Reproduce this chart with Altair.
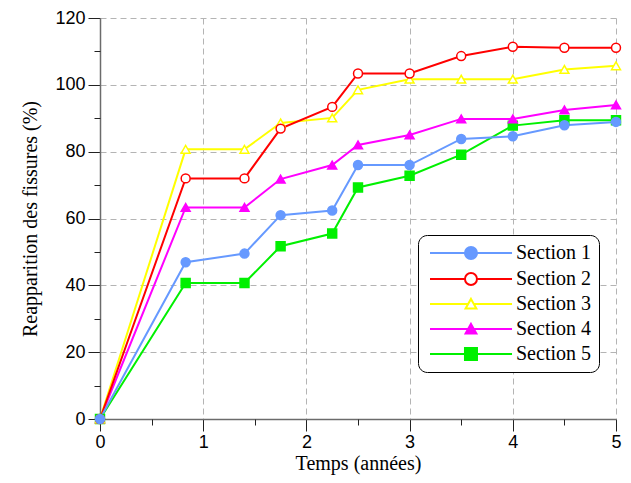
import altair as alt
import pandas as pd

# ---------------- data ----------------
series_names = ["Section 1", "Section 2", "Section 3", "Section 4", "Section 5"]
times = [0, 0.83, 1.4, 1.75, 2.25, 2.5, 3.0, 3.5, 4.0, 4.5, 5.0]
section1 = [0, 46.9, 49.5, 61.0, 62.4, 76.0, 76.0, 83.8, 84.6, 87.9, 88.9]
section2 = [0, 72.0, 72.0, 86.9, 93.4, 103.4, 103.4, 108.6, 111.4, 111.1, 111.1]
section3 = [0, 80.7, 80.7, 88.6, 90.1, 98.5, 101.7, 101.7, 101.7, 104.6, 105.7]
section4 = [0, 63.3, 63.3, 71.8, 76.0, 82.0, 85.0, 89.8, 89.8, 92.5, 94.0]
section5 = [0, 40.7, 40.7, 51.7, 55.5, 69.3, 72.8, 79.1, 87.8, 89.4, 89.4]

x_ticks = [0, 1, 2, 3, 4, 5]
x_minor = [0.5, 1.5, 2.5, 3.5, 4.5]
y_ticks = [0, 20, 40, 60, 80, 100, 120]
y_minor = [10, 30, 50, 70, 90, 110]

line_colors = ["#6699FF", "#FF0000", "#FFFF00", "#FF00FF", "#00F000"]
fill_colors = ["#6699FF", "#FFFFFF", "#FFFFFF", "#FF00FF", "#00F000"]
plot_shapes = ["circle", "circle", "triangle-up", "triangle-up", "square"]

# legend glyphs: a line with a marker on it (unit = sqrt(size)/2)
c = 5.83
L0, L1 = -1, 12.67
circ = f"M{c+1},0A1,1,0,1,1,{c-1},0A1,1,0,1,1,{c+1},0Z"
tri = f"M{c},-0.85L{c+0.9},0.75L{c-0.9},0.75Z"
sq = f"M{c-1},-1H{c+1}V1H{c-1}Z"
def seg(gap):
    return f"M{L0},0H{c-gap}M{c+gap},0H{L1}"
legend_shapes = [
    seg(1) + circ,
    seg(1) + circ,
    seg(0.48) + tri,
    seg(0.48) + tri,
    seg(1) + sq,
]

values = [section1, section2, section3, section4, section5]
rows = []
for name, vals in reversed(list(zip(series_names, values))):
    for t, v in zip(times, vals):
        rows.append({"t": t, "v": v, "series": name})
df = pd.DataFrame(rows)

# ---------------- scales / axes ----------------
xs = alt.Scale(domain=[0, 5], nice=False, zero=False)
ys = alt.Scale(domain=[0, 120], nice=False)
stroke_scale = alt.Scale(domain=series_names, range=line_colors)
fill_scale = alt.Scale(domain=series_names, range=fill_colors)

common_axis = dict(
    labelFont="Liberation Sans", labelFontSize=18, labelColor="black",
    labelFlush=False,
    titleFont="Liberation Serif", titleFontSize=20, titleFontWeight="normal",
    titleColor="black", grid=True, gridDash=[6, 4], gridColor="#b4b4b4",
    gridWidth=1, domainColor="#6b6b6b", domainWidth=1.5, tickColor="#222222",
    tickWidth=1, tickSize=12,
)
x_axis = alt.Axis(values=x_ticks, format="d", title="Temps (années)",
                  orient="bottom", labelPadding=2, titlePadding=2, **common_axis)
y_axis = alt.Axis(values=y_ticks, format="d", title="Reapparition des fissures (%)",
                  orient="left", labelPadding=3, titlePadding=14, **common_axis)
x_axis_minor = alt.Axis(values=x_minor, orient="bottom", labels=False, domain=False,
                        grid=False, tickSize=6, tickColor="#222222", title=None)
y_axis_minor = alt.Axis(values=y_minor, orient="left", labels=False, domain=False,
                        grid=False, tickSize=6, tickColor="#222222", title=None)

legend_def = alt.Legend(
    title=None, orient="none", legendX=318, legendY=217, direction="vertical",
    labelFont="Liberation Serif", labelFontSize=20, labelColor="black",
    labelOffset=70, symbolSize=144, symbolStrokeWidth=2, symbolOpacity=1,
    padding=8, strokeColor="black", fillColor="white", cornerRadius=9,
    rowPadding=5,
)

base = alt.Chart(df)

lines = base.mark_line(strokeWidth=2).encode(
    x=alt.X("t:Q", scale=xs, axis=x_axis),
    y=alt.Y("v:Q", scale=ys, axis=y_axis),
    stroke=alt.Stroke("series:N", scale=stroke_scale, legend=None),
)

points = base.mark_point(filled=True, size=80, strokeWidth=1.5, opacity=1).encode(
    x=alt.X("t:Q", scale=xs, axis=None),
    y=alt.Y("v:Q", scale=ys, axis=None),
    stroke=alt.Stroke("series:N", scale=stroke_scale, legend=None),
    fill=alt.Fill("series:N", scale=fill_scale, legend=None),
    shape=alt.Shape("series:N", scale=alt.Scale(domain=series_names, range=plot_shapes), legend=None),
)

legend_layer = base.transform_filter("false").mark_point(
    filled=True, size=144, strokeWidth=2, opacity=1
).encode(
    x=alt.X("t:Q", scale=xs, axis=x_axis_minor),
    y=alt.Y("v:Q", scale=ys, axis=y_axis_minor),
    stroke=alt.Stroke("series:N", scale=stroke_scale, legend=legend_def),
    fill=alt.Fill("series:N", scale=fill_scale, legend=legend_def),
    shape=alt.Shape("series:N", scale=alt.Scale(domain=series_names, range=legend_shapes), legend=legend_def),
)

chart = alt.layer(lines, points, legend_layer).resolve_scale(
    stroke="independent", fill="independent", shape="independent"
).resolve_axis(
    x="independent", y="independent"
).properties(
    width=516, height=401,
    autosize=alt.AutoSizeParams(type="none"),
    padding={"left": 92, "top": 10, "right": 7, "bottom": 56},
    background="white",
).configure_view(stroke=None)

chart.save("out.html", embed_options={"renderer": "svg", "actions": False})
